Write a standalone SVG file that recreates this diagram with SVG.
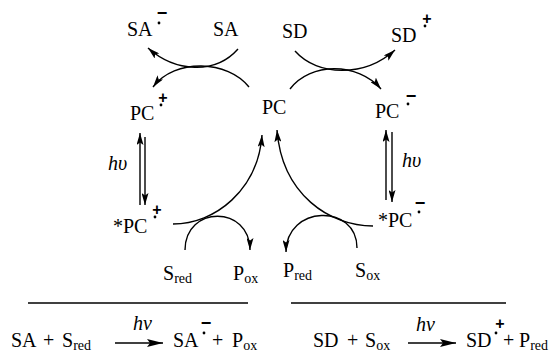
<svg xmlns="http://www.w3.org/2000/svg" width="558" height="354" viewBox="0 0 558 354">
<style>
text{font-family:"Liberation Serif","Times New Roman",serif;font-size:20px;fill:#000}
.sub{font-size:14px}
.it{font-style:italic}
.chg{font-family:"Liberation Sans",Arial,sans-serif;font-weight:bold;text-anchor:middle}
.pl{font-size:16px}
.mi{font-size:18px}
.ln{fill:none;stroke:#000;stroke-width:1.4}
</style>
<defs>
<marker id="ah" markerUnits="userSpaceOnUse" viewBox="0 0 12 7" refX="12" refY="3.5" markerWidth="12" markerHeight="7" orient="auto">
<path d="M0,0 L12,3.5 L0,7 L2.5,3.5 Z" fill="#000"/>
</marker>
<marker id="ahb" markerUnits="userSpaceOnUse" viewBox="0 0 16 8" refX="16" refY="4" markerWidth="16" markerHeight="8" orient="auto">
<path d="M0,0 L16,4 L0,8 L3,4 Z" fill="#000"/>
</marker>
</defs>

<g id="connectors" class="ln">
<path d="M238,49 C215,75 175,72 148,48" marker-end="url(#ah)"/>
<path d="M249,87 C228,60 175,58 153,87" marker-end="url(#ah)"/>
<path d="M295,51 C318,77 365,77 395,50" marker-end="url(#ah)"/>
<path d="M290,89 C310,62 358,62 381,89" marker-end="url(#ah)"/>
<path d="M173,224 C215,224 258,190 262,135" marker-end="url(#ah)"/>
<path d="M185,250 C185,205 250,205 250,250" marker-end="url(#ah)"/>
<path d="M373,226 C330,226 282,195 277,130" marker-end="url(#ah)"/>
<path d="M357,248 C357,203 286,205 286,252" marker-end="url(#ah)"/>
<path d="M140,205 L140,133" marker-end="url(#ah)"/>
<path d="M145,137 L145,205" marker-end="url(#ah)"/>
<path d="M386,200 L386,130" marker-end="url(#ah)"/>
<path d="M392,132 L392,202" marker-end="url(#ah)"/>
<path d="M28,303 L248,303"/>
<path d="M291,303 L506,303"/>
<path d="M115,343 L163,343" marker-end="url(#ahb)"/>
<path d="M408,343 L456,343" marker-end="url(#ahb)"/>
</g>

<g id="sa-radical">
<text x="127" y="36">SA</text>
<text class="chg mi" x="162" y="19">−</text>
<circle cx="159" cy="23" r="1.4"/>
</g>
<g id="sa"><text x="213" y="36">SA</text></g>
<g id="sd"><text x="282" y="38">SD</text></g>
<g id="sd-radical">
<text x="391" y="42">SD</text>
<text class="chg pl" x="427" y="24">+</text>
<circle cx="425" cy="26" r="1.4"/>
</g>
<g id="pc-cation">
<text x="130" y="120">PC</text>
<text class="chg pl" x="163" y="103">+</text>
<circle cx="161" cy="105" r="1.4"/>
</g>
<g id="pc"><text x="262" y="114">PC</text></g>
<g id="pc-anion">
<text x="375" y="118">PC</text>
<text class="chg mi" x="411" y="102">−</text>
<circle cx="408" cy="104" r="1.4"/>
</g>
<g id="hv-left"><text class="it" x="108" y="170">hυ</text></g>
<g id="hv-right"><text class="it" x="402" y="167">hυ</text></g>
<g id="pc-cation-excited">
<text x="113" y="233">*PC</text>
<text class="chg pl" x="157" y="215">+</text>
<circle cx="155" cy="217" r="1.4"/>
</g>
<g id="pc-anion-excited">
<text x="378" y="227">*PC</text>
<text class="chg mi" x="420" y="209">−</text>
<circle cx="419" cy="212" r="1.4"/>
</g>
<g id="s-red"><text x="163" y="280">S<tspan class="sub" dy="3">red</tspan></text></g>
<g id="p-ox"><text x="233" y="280">P<tspan class="sub" dy="3">ox</tspan></text></g>
<g id="p-red"><text x="283" y="277">P<tspan class="sub" dy="3">red</tspan></text></g>
<g id="s-ox"><text x="355" y="277">S<tspan class="sub" dy="3">ox</tspan></text></g>

<g id="eq-left">
<text x="11" y="347">SA</text>
<text x="43" y="347">+</text>
<text x="62" y="347">S<tspan class="sub" dy="3">red</tspan></text>
<text class="it" x="133" y="330">hv</text>
<text x="173" y="347">SA</text>
<text class="chg mi" x="206" y="329">−</text>
<circle cx="204" cy="333" r="1.4"/>
<text x="212" y="347">+</text>
<text x="232" y="347">P<tspan class="sub" dy="3">ox</tspan></text>
</g>
<g id="eq-right">
<text x="313" y="347">SD</text>
<text x="347" y="347">+</text>
<text x="365" y="347">S<tspan class="sub" dy="3">ox</tspan></text>
<text class="it" x="416" y="331">hv</text>
<text x="466" y="347">SD</text>
<text class="chg pl" x="500" y="329">+</text>
<circle cx="496" cy="333" r="1.4"/>
<text x="503" y="347">+</text>
<text x="519" y="347">P<tspan class="sub" dy="3">red</tspan></text>
</g>
</svg>
